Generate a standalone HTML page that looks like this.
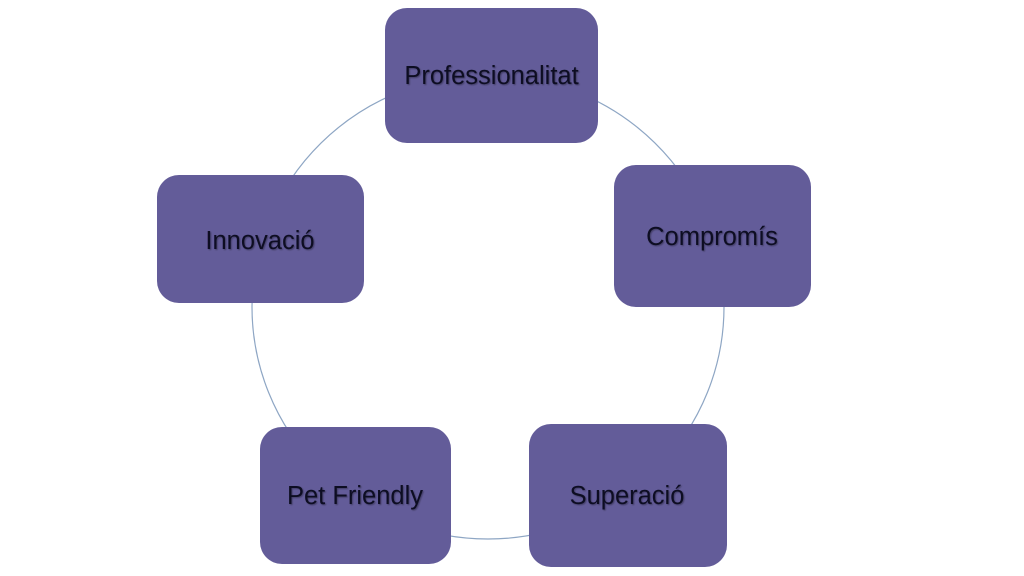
<!DOCTYPE html>
<html>
<head>
<meta charset="utf-8">
<style>
  html, body { margin:0; padding:0; background:#ffffff; }
  body { width:1024px; height:576px; overflow:hidden; }
  svg { display:block; }
  text { font-family:"Liberation Sans", Arial, sans-serif; font-size:25.5px; fill:#0e0d22; }
</style>
</head>
<body>
<svg width="1024" height="576" viewBox="0 0 1024 576" xmlns="http://www.w3.org/2000/svg">
  <defs>
    <filter id="ts" x="-10%" y="-30%" width="120%" height="160%">
      <feGaussianBlur in="SourceAlpha" stdDeviation="0.8"/>
      <feOffset dx="1" dy="1" result="b"/>
      <feComponentTransfer><feFuncA type="linear" slope="0.35"/></feComponentTransfer>
      <feMerge><feMergeNode/><feMergeNode in="SourceGraphic"/></feMerge>
    </filter>
  </defs>
  <rect width="1024" height="576" fill="#ffffff"/>
  <ellipse cx="488" cy="307" rx="236" ry="232" fill="none" stroke="#8ea6c4" stroke-width="1.2"/>

  <rect x="385" y="8" width="213" height="135" rx="22" ry="22" fill="#635c99"/>
  <rect x="614" y="165" width="197" height="142" rx="22" ry="22" fill="#635c99"/>
  <rect x="529" y="424" width="198" height="143" rx="22" ry="22" fill="#635c99"/>
  <rect x="260" y="427" width="191" height="137" rx="22" ry="22" fill="#635c99"/>
  <rect x="157" y="175" width="207" height="128" rx="22" ry="22" fill="#635c99"/>

  <g filter="url(#ts)" text-anchor="middle">
    <text x="491.5" y="84">Professionalitat</text>
    <text x="712" y="245">Compromís</text>
    <text x="627" y="504">Superació</text>
    <text x="355" y="504">Pet Friendly</text>
    <text x="260" y="249">Innovació</text>
  </g>
</svg>
</body>
</html>
